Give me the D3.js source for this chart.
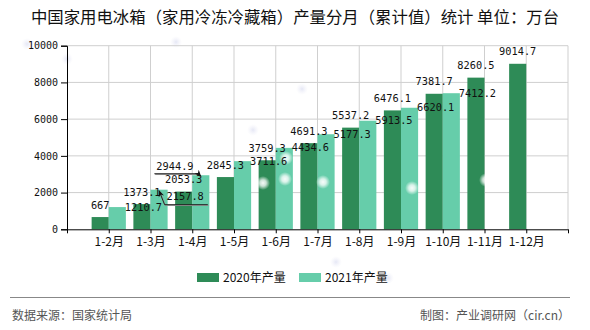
<!DOCTYPE html>
<html><head><meta charset="utf-8">
<script src="https://cdn.jsdelivr.net/npm/d3@7"></script>
<style>
html,body{margin:0;padding:0;background:#fff;}
svg{display:block;}
</style></head>
<body>
<svg id="chart" width="590" height="330"></svg>
<script>
const categories = ["1-2月","1-3月","1-4月","1-5月","1-6月","1-7月","1-8月","1-9月","1-10月","1-11月","1-12月"];
const seriesNames = ["2020年产量","2021年产量"];
const values2020 = [667,1373.1,2053.3,2845.3,3759.3,4691.3,5537.2,6476.1,7381.7,8260.5,9014.7];
const values2021 = [1210.7,2157.8,2944.9,3711.6,4434.6,5177.3,5913.5,6620.1,7412.2,null,null];
const yTicks = [0,2000,4000,6000,8000,10000];
const titleText = "中国家用电冰箱（家用冷冻冷藏箱）产量分月（累计值）统计 单位：万台";
const sourceText = "数据来源：国家统计局";
const creditText = "制图：产业调研网（cir.cn）";

const colors = ["#2e8b57", "#66cdaa"];
const svg = d3.select("#chart");
const plot = {left: 67, right: 568, top: 45.7, bottom: 229.3};
const monoFont = "'DejaVu Sans Mono', monospace";
const cjkFont = "'Noto Sans CJK SC', sans-serif";

// decorations (background glows)
const defs = svg.append("defs");
const g1 = defs.append("radialGradient").attr("id","glowW");
g1.append("stop").attr("offset","0%").attr("stop-color","#fff").attr("stop-opacity",0.95);
g1.append("stop").attr("offset","45%").attr("stop-color","#fff").attr("stop-opacity",0.75);
g1.append("stop").attr("offset","100%").attr("stop-color","#fff").attr("stop-opacity",0);
const g2 = defs.append("radialGradient").attr("id","glowB");
g2.append("stop").attr("offset","0%").attr("stop-color","#d4d7ee").attr("stop-opacity",0.6);
g2.append("stop").attr("offset","100%").attr("stop-color","#e8e9f6").attr("stop-opacity",0);
defs.append("marker").attr("id","arrow").attr("viewBox","0 0 10 10").attr("refX",9).attr("refY",5)
  .attr("markerWidth",7).attr("markerHeight",7).attr("markerUnits","userSpaceOnUse")
  .attr("orient","auto-start-reverse")
  .append("path").attr("d","M0,1 L10,5 L0,9 L3,5 Z").attr("fill","#111");

const x = d3.scaleLinear().domain([0, categories.length + 1]).range([plot.left, plot.right]);
const y = d3.scaleLinear().domain([0, 10000]).range([plot.bottom, plot.top]);
const barW = (x(1) - x(0)) * 0.41;

// title
svg.append("text").attr("x", 295).attr("y", 23).attr("text-anchor","middle")
  .attr("font-family", cjkFont).attr("font-size", 16.4).attr("fill","#111").text(titleText);

// faint dots
[[27,44],[67,59],[176,42],[253,130],[302,89],[336,262],[388,278]].forEach(p=>{
  svg.append("circle").attr("cx",p[0]).attr("cy",p[1]).attr("r",6).attr("fill","url(#glowB)");
});

// grid
const grid = svg.append("g");
grid.selectAll("line.h").data(yTicks.filter(d=>d>0)).join("line")
  .attr("x1", plot.left).attr("x2", plot.right).attr("y1", d=>y(d)).attr("y2", d=>y(d))
  .attr("stroke","#cfcfcf").attr("stroke-width",1);
grid.selectAll("line.v").data(d3.range(1, categories.length + 2)).join("line")
  .attr("x1", d=>x(d)).attr("x2", d=>x(d)).attr("y1", plot.top).attr("y2", plot.bottom)
  .attr("stroke","#cfcfcf").attr("stroke-width",1);

// bars
const bars = svg.append("g");
bars.selectAll("rect.a").data(values2020).join("rect")
  .attr("x", (d,i)=>x(i+1)-barW).attr("width", barW)
  .attr("y", d=>y(d)).attr("height", d=>plot.bottom - y(d)).attr("fill", colors[0]);
bars.selectAll("rect.b").data(values2021.map((v,i)=>({v,i})).filter(d=>d.v!=null)).join("rect")
  .attr("x", d=>x(d.i+1)).attr("width", barW)
  .attr("y", d=>y(d.v)).attr("height", d=>plot.bottom - y(d.v)).attr("fill", colors[1]);

// white glows over bars
[[263,183],[285,179],[286,158],[323,182],[412,188],[486,180]].forEach(p=>{
  svg.append("circle").attr("cx",p[0]).attr("cy",p[1]).attr("r",7).attr("fill","url(#glowW)");
});

// axes
const yAxis = d3.axisLeft(y).tickValues(yTicks).tickSize(6).tickPadding(3).tickFormat(d3.format("d"));
const gy = svg.append("g").attr("transform",`translate(${plot.left},0)`).call(yAxis);
gy.selectAll("text").attr("font-family", monoFont).attr("font-size", 10).attr("fill","#111");
gy.selectAll("line,path").attr("stroke","#000");

const xAxis = d3.axisBottom(x).tickValues(d3.range(0, categories.length + 2)).tickSize(4).tickPadding(4)
  .tickFormat(i => (i>=1 && i<=categories.length) ? categories[i-1] : "");
const gx = svg.append("g").attr("transform",`translate(0,${plot.bottom})`).call(xAxis);
gx.selectAll("text").attr("font-family", cjkFont).attr("font-size", 12).attr("fill","#111");
gx.selectAll("line,path").attr("stroke","#000");
gx.select("path").attr("d", `M${plot.left},0.5H${plot.right}`);

// labels 2020
const labels = svg.append("g").attr("font-family", monoFont).attr("font-size", 10.3).attr("fill","#111");
labels.selectAll("text.a").data(values2020).join("text")
  .attr("x", (d,i)=>x(i+1)-barW/2).attr("y", d=>y(d)-12).attr("dy","0.35em")
  .attr("text-anchor","middle").text(d=>d3.format("")(d));

// labels 2021 (some moved to avoid overlap, with leader lines)
const shift = {1:{dx:0,dy:7,lead:"start"}, 2:{dx:-52,dy:-9,lead:"end"}};
values2021.forEach((v,i)=>{
  if (v==null) return;
  const s = shift[i] || {dx:0,dy:0};
  const lx = x(i+1)+barW - 1 + s.dx, ly = y(v) + s.dy;
  const t = labels.append("text").attr("x", lx).attr("y", ly).attr("dy","0.35em")
    .attr("text-anchor","start").text(String(v));
  if (s.lead) {
    const w = t.node().getComputedTextLength();
    const tip = [x(i+1)+barW/2, y(v)+1];
    let pts;
    if (s.lead === "start") pts = [tip, [lx-2, ly+8], [lx+w+4, ly+8]];
    else pts = [[lx-2, ly+7.5], [lx+w+5, ly+7.5], tip];
    svg.append("path").attr("d", d3.line()(pts)).attr("fill","none").attr("stroke","#999").attr("stroke-width",1)
      .attr("transform","translate(0.8,0.8)");
    svg.append("path").attr("d", d3.line()(pts)).attr("fill","none").attr("stroke","#222").attr("stroke-width",1)
      .attr(s.lead==="start" ? "marker-start" : "marker-end", "url(#arrow)");
  }
});

// legend
const lg = svg.append("g");
const lx0 = [197, 299];
seriesNames.forEach((n,k)=>{
  lg.append("rect").attr("x", lx0[k]).attr("y", 273).attr("width", 22).attr("height", 9).attr("fill", colors[k]);
  lg.append("text").attr("x", lx0[k]+26).attr("y", 278).attr("dy","0.35em")
    .attr("font-family", cjkFont).attr("font-size", 12).attr("fill","#111").text(n);
});

// footer
svg.append("line").attr("x1",10).attr("x2",570).attr("y1",297.5).attr("y2",297.5).attr("stroke","#888").attr("stroke-width",1);
svg.append("text").attr("x",12).attr("y",316).attr("dy","0.35em").attr("font-family",cjkFont)
  .attr("font-size",12).attr("fill","#555").text(sourceText);
svg.append("text").attr("x",570).attr("y",316).attr("dy","0.35em").attr("text-anchor","end").attr("font-family",cjkFont)
  .attr("font-size",12).attr("fill","#555").text(creditText);
</script>
</body></html>
